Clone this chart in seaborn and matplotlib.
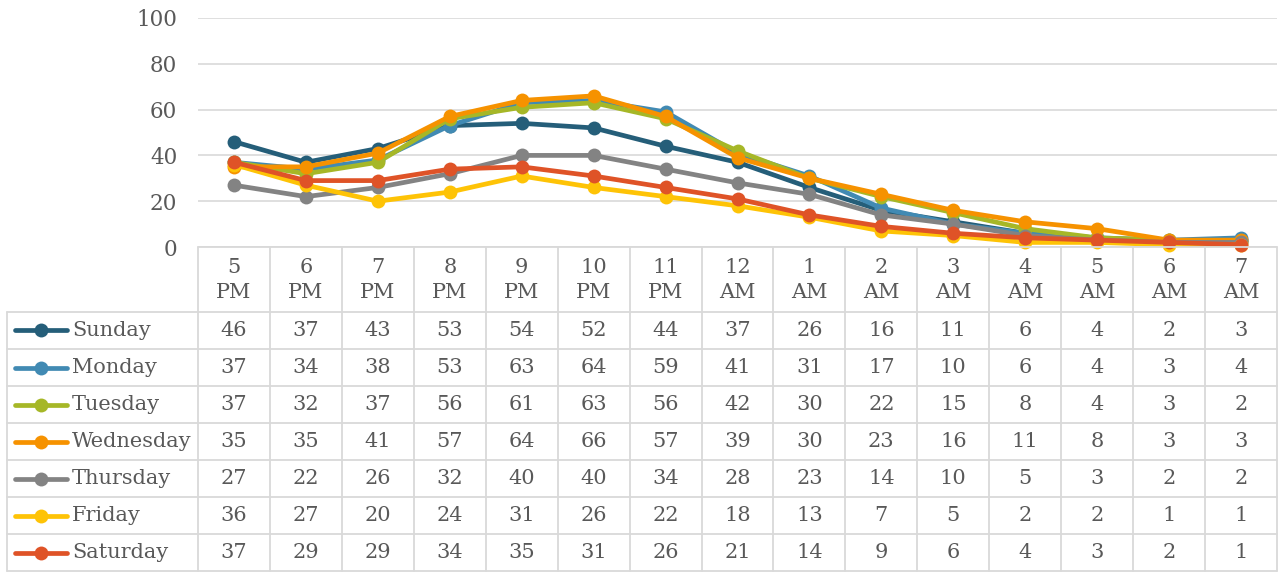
import matplotlib
matplotlib.use("Agg")
import matplotlib.pyplot as plt
import seaborn as sns
import pandas as pd

hours = ["5\nPM", "6\nPM", "7\nPM", "8\nPM", "9\nPM", "10\nPM", "11\nPM", "12\nAM",
         "1\nAM", "2\nAM", "3\nAM", "4\nAM", "5\nAM", "6\nAM", "7\nAM"]
days = ["Sunday", "Monday", "Tuesday", "Wednesday", "Thursday", "Friday", "Saturday"]
sunday = [46, 37, 43, 53, 54, 52, 44, 37, 26, 16, 11, 6, 4, 2, 3]
monday = [37, 34, 38, 53, 63, 64, 59, 41, 31, 17, 10, 6, 4, 3, 4]
tuesday = [37, 32, 37, 56, 61, 63, 56, 42, 30, 22, 15, 8, 4, 3, 2]
wednesday = [35, 35, 41, 57, 64, 66, 57, 39, 30, 23, 16, 11, 8, 3, 3]
thursday = [27, 22, 26, 32, 40, 40, 34, 28, 23, 14, 10, 5, 3, 2, 2]
friday = [36, 27, 20, 24, 31, 26, 22, 18, 13, 7, 5, 2, 2, 1, 1]
saturday = [37, 29, 29, 34, 35, 31, 26, 21, 14, 9, 6, 4, 3, 2, 1]
colors = ["#255E79", "#418AB3", "#A6B727", "#F69200", "#838383", "#FEC306", "#DF5327"]

series = [sunday, monday, tuesday, wednesday, thursday, friday, saturday]
rows = []
for d, vals in zip(days, series):
    for i, v in enumerate(vals):
        rows.append({"day": d, "idx": i, "value": v})
df = pd.DataFrame(rows)

sns.set_theme(style="white")
plt.rcParams["font.family"] = ["DejaVu Serif"]
TXT = "#595959"
GRID = "#D9D9D9"
FS = 15

W, H = 1279, 572
fig = plt.figure(figsize=(W / 100, H / 100), dpi=100)


def box(x0, y0, x1, y1):
    return [x0 / W, 1 - y1 / H, (x1 - x0) / W, (y1 - y0) / H]


ax = fig.add_axes(box(198, 18, 1277, 247))
tax = fig.add_axes(box(198, 247, 1277, 571))

sns.lineplot(data=df, x="idx", y="value", hue="day", hue_order=days,
             palette=colors, marker="o", markersize=10, markeredgewidth=0,
             linewidth=3.4, legend=False, ax=ax, clip_on=False, zorder=5)
ax.set_xlim(-0.5, len(hours) - 0.5)
ax.set_ylim(0, 100)
ax.set_yticks([0, 20, 40, 60, 80, 100])
ax.set_xticks([])
ax.set_xlabel("")
ax.set_ylabel("")
for s in ax.spines.values():
    s.set_visible(False)
ax.yaxis.grid(True, color=GRID, linewidth=1.2)
ax.set_axisbelow(True)
ax.tick_params(axis="y", length=0, pad=15, labelsize=15.5, labelcolor=TXT)
ax.patch.set_alpha(0)

# table
tax.set_xlim(-0.5, len(hours) - 0.5)
tax.set_ylim(324, 0)
tax.axis("off")
colw = 1079 / 15.0
def dx(p):
    return -0.5 + (p - 198) / colw

left = dx(7)
hdr = 65
rh = 37
nrows = len(days)
lk = dict(color=GRID, linewidth=1.3, clip_on=False, zorder=1)
# horizontal lines
tax.plot([-0.5, 14.5], [0, 0], **lk)
for r in range(nrows + 1):
    y = hdr + r * rh
    tax.plot([left, 14.5], [y, y], **lk)
# vertical lines
for c in range(len(hours) + 1):
    x = -0.5 + c
    tax.plot([x, x], [0, 324], **lk)
tax.plot([left, left], [hdr, 324], **lk)

for c, h in enumerate(hours):
    tax.text(c, hdr / 2 + 1, h, ha="center", va="center", fontsize=FS, color=TXT,
             linespacing=1.4)

for r, (d, vals, col) in enumerate(zip(days, series, colors)):
    yc = hdr + r * rh + rh / 2
    tax.plot([dx(15), dx(67)], [yc, yc], color=col, linewidth=3.4,
             solid_capstyle="round", clip_on=False)
    tax.plot([dx(41)], [yc], marker="o", color=col, markersize=10,
             markeredgewidth=0, clip_on=False)
    tax.text(dx(72), yc, d, ha="left", va="center", fontsize=FS, color=TXT)
    for c, v in enumerate(vals):
        tax.text(c, yc, str(v), ha="center", va="center", fontsize=FS, color=TXT)

fig.savefig("out.png", dpi=100, facecolor="white")
